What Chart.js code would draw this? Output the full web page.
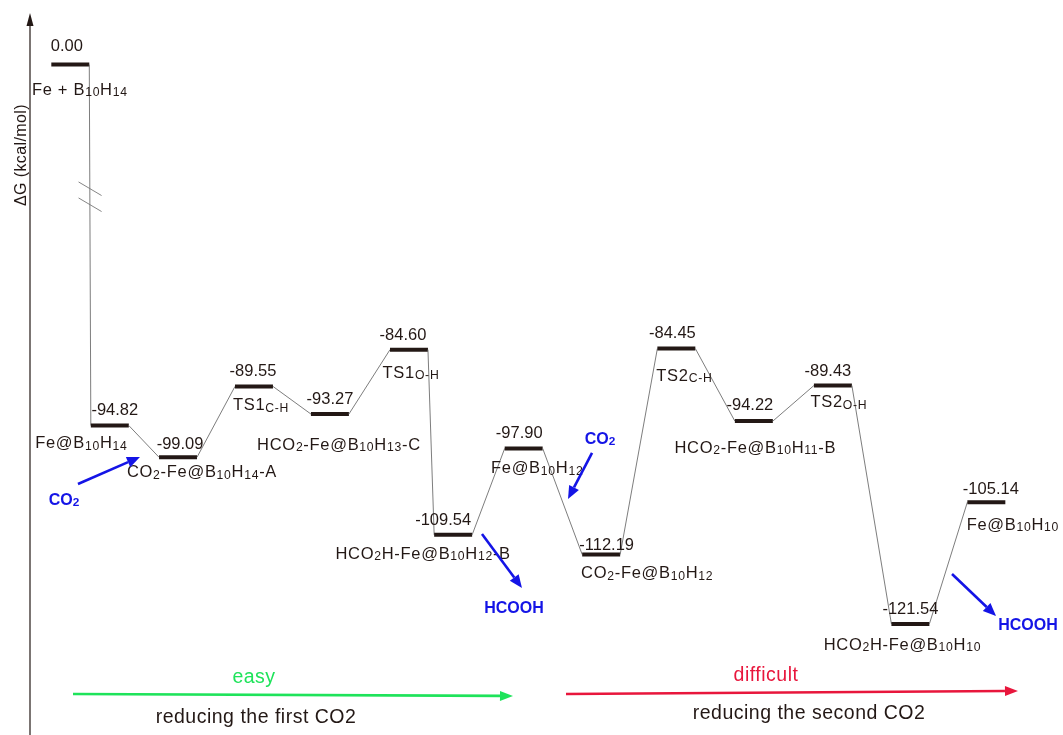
<!DOCTYPE html>
<html>
<head>
<meta charset="utf-8">
<script src="https://cdn.jsdelivr.net/npm/chart.js@4.4.0/dist/chart.umd.min.js"></script>
<style>
  html, body { margin: 0; padding: 0; background: #ffffff; }
  #wrap { width: 1063px; height: 735px; position: relative; }
</style>
</head>
<body>
<div id="wrap"><canvas id="profile"></canvas></div>
<script>
// Free-energy profile (kcal/mol) for the stepwise reduction of two CO2 molecules on Fe + B10H14.
// "_{...}" marks a subscript in the state names.
const stateNames = [
  'Fe + B_{10}H_{14}',
  'Fe@B_{10}H_{14}',
  'CO_{2}-Fe@B_{10}H_{14}-A',
  'TS1_{C-H}',
  'HCO_{2}-Fe@B_{10}H_{13}-C',
  'TS1_{O-H}',
  'HCO_{2}H-Fe@B_{10}H_{12}-B',
  'Fe@B_{10}H_{12}',
  'CO_{2}-Fe@B_{10}H_{12}',
  'TS2_{C-H}',
  'HCO_{2}-Fe@B_{10}H_{11}-B',
  'TS2_{O-H}',
  'HCO_{2}H-Fe@B_{10}H_{10}',
  'Fe@B_{10}H_{10}'
];
const energies = [0.00, -94.82, -99.09, -89.55, -93.27, -84.60, -109.54, -97.90, -112.19, -84.45, -94.22, -89.43, -121.54, -105.14];
// position of each state along the reaction coordinate
const reactionCoord = [0.52, 1.03, 1.91, 2.89, 3.87, 4.89, 5.46, 6.37, 7.37, 8.34, 9.34, 10.36, 11.36, 12.34];
const axisTitle = 'ΔG (kcal/mol)';
const stages = [
  { note: 'easy', caption: 'reducing the first CO2', color: '#1ee35a' },
  { note: 'difficult', caption: 'reducing the second CO2', color: '#e8163c' }
];

// ---- layout and styling ----
const FONT = '"Liberation Sans", Arial, Helvetica, sans-serif';
const INK = '#231815';
const BLUE = '#1414e6';
const HALF = 0.245;                       // half width of a level bar (x units)
const AXIS_BREAK = { low: -64, high: -17.8 };  // span of ΔG that the axis skips
// label offsets in px: [dx, dy] from the bar centre
const valueOffsets = [[-3.5,-20],[5,-16],[2,-14],[-1,-16],[0,-16],[-6,-16],[-10,-16],[-4.5,-16],[5.5,-10],[-4,-17],[-4,-17],[-5,-15],[0,-16],[4.5,-14]];
const nameOffsets  = [[9.5,24],[-28.5,17],[24,14],[7,18],[9,30],[2,22],[-30,18],[13.5,19],[46,18],[8,26],[1.5,26],[6,16],[-8,20],[26.5,22]];
// annotation arrows, given in chart units [x, ΔG]
const releaseArrows = [
  { from: [0.619, -102.69], to: [1.419, -99.05],  text: 'CO_{2}', at: [0.439, -104.71] },
  { from: [5.832, -109.42], to: [6.348, -116.70], text: 'HCOOH',  at: [6.245, -119.26] },
  { from: [7.252, -98.51],  to: [6.942, -104.71], text: 'CO_{2}', at: [7.355, -96.49] },
  { from: [11.897, -114.81], to: [12.465, -120.47], text: 'HCOOH', at: [12.877, -121.55] }
];
const stageArrows = [
  { from: [0.555, -130.97], to: [6.232, -131.24], note: [2.890, -128.55], caption: [2.916, -133.94] },
  { from: [6.916, -130.97], to: [12.748, -130.57], note: [9.497, -128.28], caption: [10.052, -133.40] }
];

// Linear scale with a gap: values above the break are drawn shifted down by the skipped span.
class BrokenLinearScale extends Chart.LinearScale {
  getPixelForValue(value, index) {
    if (value !== null && value !== undefined && value > AXIS_BREAK.high) {
      value -= (AXIS_BREAK.high - AXIS_BREAK.low);
    }
    return super.getPixelForValue(value, index);
  }
}
BrokenLinearScale.id = 'brokenLinear';
BrokenLinearScale.defaults = Chart.LinearScale.defaults;
Chart.register(BrokenLinearScale);

// Each state becomes a level bar (two points); consecutive bars are joined by thin connectors.
const profilePoints = [];
reactionCoord.forEach((x, i) => {
  profilePoints.push({ x: x - HALF, y: energies[i] });
  profilePoints.push({ x: x + HALF, y: energies[i] });
});

function parseRich(s) {
  const out = [];
  const re = /_\{([^}]*)\}/g;
  let last = 0, m;
  while ((m = re.exec(s))) {
    if (m.index > last) out.push({ t: s.slice(last, m.index), sub: false });
    out.push({ t: m[1], sub: true });
    last = re.lastIndex;
  }
  if (last < s.length) out.push({ t: s.slice(last), sub: false });
  return out;
}

function drawRich(ctx, s, cx, cy, size, color, weight, spacing) {
  const segs = parseRich(s);
  const subSize = size * 0.74;
  const fontFor = sub => `${weight} ${sub ? subSize : size}px ${FONT}`;
  ctx.save();
  try { ctx.letterSpacing = spacing + 'px'; } catch (e) {}
  let w = 0;
  segs.forEach(g => { ctx.font = fontFor(g.sub); g.w = ctx.measureText(g.t).width; w += g.w; });
  let x = cx - w / 2;
  const base = cy + size * 0.36;
  ctx.fillStyle = color;
  ctx.textAlign = 'left';
  ctx.textBaseline = 'alphabetic';
  segs.forEach(g => {
    ctx.font = fontFor(g.sub);
    ctx.fillText(g.t, x, base + (g.sub ? size * 0.08 : 0));
    x += g.w;
  });
  ctx.restore();
}

function drawArrow(ctx, x1, y1, x2, y2, color, width, headLen, headHalf) {
  const a = Math.atan2(y2 - y1, x2 - x1);
  const bx = x2 - headLen * Math.cos(a), by = y2 - headLen * Math.sin(a);
  ctx.save();
  ctx.strokeStyle = color;
  ctx.fillStyle = color;
  ctx.lineWidth = width;
  ctx.beginPath();
  ctx.moveTo(x1, y1);
  ctx.lineTo(bx, by);
  ctx.stroke();
  ctx.beginPath();
  ctx.moveTo(x2, y2);
  ctx.lineTo(bx + headHalf * Math.sin(a), by - headHalf * Math.cos(a));
  ctx.lineTo(bx - headHalf * Math.sin(a), by + headHalf * Math.cos(a));
  ctx.closePath();
  ctx.fill();
  ctx.restore();
}

const decorations = {
  id: 'decorations',
  afterDatasetsDraw(chart) {
    const ctx = chart.ctx;
    const xs = chart.scales.x, ys = chart.scales.y;
    const area = chart.chartArea;
    const P = (pt) => [xs.getPixelForValue(pt[0]), ys.getPixelForValue(pt[1])];

    // energy axis with arrow
    const ax = area.left;
    ctx.save();
    ctx.strokeStyle = INK;
    ctx.lineWidth = 1.2;
    ctx.beginPath();
    ctx.moveTo(ax, area.bottom);
    ctx.lineTo(ax, 24);
    ctx.stroke();
    ctx.fillStyle = INK;
    ctx.beginPath();
    ctx.moveTo(ax, 13);
    ctx.lineTo(ax - 3.5, 26);
    ctx.lineTo(ax + 3.5, 26);
    ctx.closePath();
    ctx.fill();
    ctx.restore();

    // axis title
    ctx.save();
    ctx.translate(ax - 10, 155);
    ctx.rotate(-Math.PI / 2);
    drawRich(ctx, axisTitle, 0, 0, 16, INK, 'normal', 0.4);
    ctx.restore();

    // break marks across the first connector
    const bx = (xs.getPixelForValue(reactionCoord[0] + HALF) + xs.getPixelForValue(reactionCoord[1] - HALF)) / 2;
    const by = ys.getPixelForValue(AXIS_BREAK.low);
    ctx.save();
    ctx.strokeStyle = '#777777';
    ctx.lineWidth = 0.9;
    [-8, 8].forEach(off => {
      ctx.beginPath();
      ctx.moveTo(bx - 11.5, by + off - 6.8);
      ctx.lineTo(bx + 11.5, by + off + 6.8);
      ctx.stroke();
    });
    ctx.restore();

    // values above and names below each level
    energies.forEach((e, i) => {
      const cx = xs.getPixelForValue(reactionCoord[i]);
      const cy = ys.getPixelForValue(e);
      drawRich(ctx, e.toFixed(2), cx + valueOffsets[i][0], cy + valueOffsets[i][1], 16.5, INK, 'normal', 0);
      drawRich(ctx, stateNames[i], cx + nameOffsets[i][0], cy + nameOffsets[i][1], 16.5, INK, 'normal', 0.7);
    });

    // adsorbed CO2 / released HCOOH
    releaseArrows.forEach(a => {
      const [x1, y1] = P(a.from), [x2, y2] = P(a.to);
      drawArrow(ctx, x1, y1, x2, y2, BLUE, 2.6, 13, 5.5);
      const [tx, ty] = P(a.at);
      drawRich(ctx, a.text, tx, ty, 16, BLUE, 'bold', 0);
    });

    // the two reduction stages
    stageArrows.forEach((s, i) => {
      const [x1, y1] = P(s.from), [x2, y2] = P(s.to);
      drawArrow(ctx, x1, y1, x2, y2, stages[i].color, 2.6, 13, 5);
      const [nx, ny] = P(s.note);
      drawRich(ctx, stages[i].note, nx, ny, 19.5, stages[i].color, 'normal', 0.5);
      const [cx, cy] = P(s.caption);
      drawRich(ctx, stages[i].caption, cx, cy, 19.5, INK, 'normal', 0.5);
    });
  }
};

new Chart(document.getElementById('profile'), {
  type: 'line',
  data: {
    datasets: [{
      data: profilePoints,
      borderColor: INK,
      borderWidth: 4,
      pointRadius: 0,
      pointHoverRadius: 0,
      tension: 0,
      fill: false,
      clip: false,
      segment: {
        borderWidth: c => (c.p0DataIndex % 2 === 0 ? 4 : 0.9),
        borderColor: c => (c.p0DataIndex % 2 === 0 ? INK : '#6e6e6e')
      }
    }]
  },
  options: {
    responsive: true,
    maintainAspectRatio: false,
    animation: false,
    layout: { padding: { left: 30, right: 0, top: 0, bottom: 0 } },
    plugins: { legend: { display: false }, tooltip: { enabled: false } },
    scales: {
      x: { type: 'linear', min: 0, max: 13.329, display: false },
      y: { type: 'brokenLinear', min: -136.5, max: -37.5, display: false }
    }
  },
  plugins: [decorations]
});
</script>
</body>
</html>
